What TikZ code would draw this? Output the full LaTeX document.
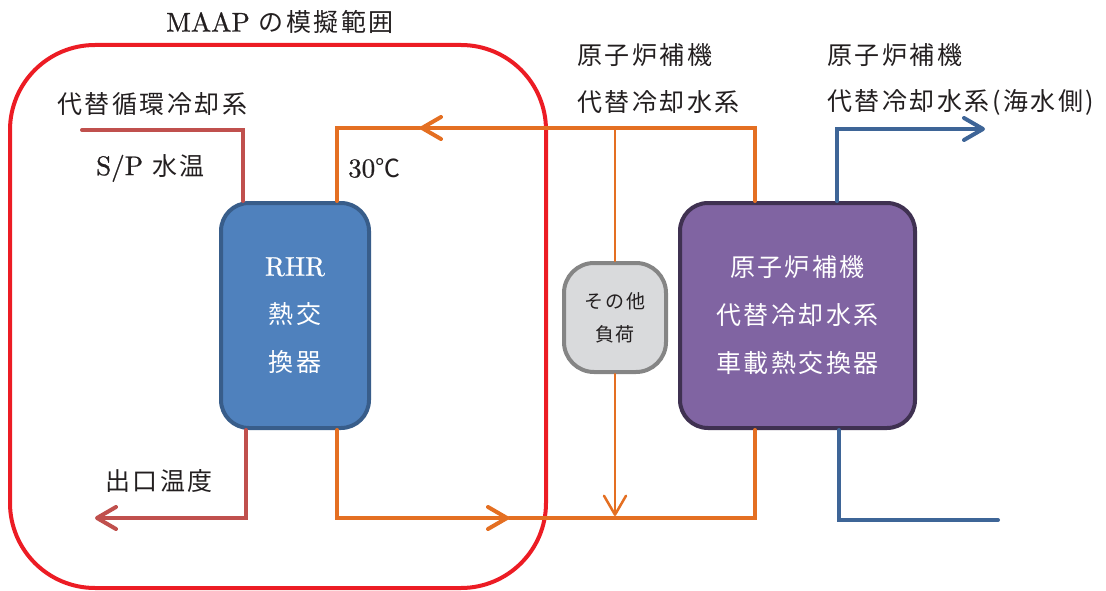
\documentclass[tikz,border=0pt]{standalone}
\usepackage{fontspec}
\setmainfont{lmroman10-regular.otf}[RawFeature={embolden=0.8}]
\newfontfamily\cjk[LetterSpace=10]{Noto Sans CJK JP}
\usetikzlibrary{arrows.meta}
\definecolor{framered}{HTML}{EC1C24}
\definecolor{brn}{HTML}{C0504D}
\definecolor{org}{HTML}{E46F22}
\definecolor{blu}{HTML}{3E6597}
\definecolor{rhrfill}{HTML}{4F81BD}
\definecolor{rhrdraw}{HTML}{385D8A}
\definecolor{purfill}{HTML}{8064A2}
\definecolor{purdraw}{HTML}{3F3151}
\definecolor{gryfill}{HTML}{D9DADC}
\definecolor{grydraw}{HTML}{858585}
\definecolor{txt}{HTML}{231F20}
\newcommand\J[1]{{\cjk\fontsize{25}{48}\selectfont #1}}
\newcommand\Js[1]{{\cjk\fontsize{19}{33}\selectfont #1}}
\tikzset{
  lbl/.style={inner sep=0pt, text=txt, font=\fontsize{27}{32}\selectfont},
  hxbox/.style={rounded corners=28pt, line width=4pt, inner sep=0pt, align=center,
    text=white, font=\fontsize{27}{48}\selectfont},
  tip/.style={-{Straight Barb[length=19pt,width=22pt,round]}},
  brline/.style={draw=brn, line width=4pt, line cap=round},
  oline/.style={draw=org, line width=4pt, line cap=round},
  othin/.style={draw=org, line width=2.5pt, line cap=round},
  bline/.style={draw=blu, line width=4pt, line cap=round},
}
\begin{document}
\begin{tikzpicture}[x=1pt,y=-1pt]
\useasboundingbox (0,0) rectangle (1106,591);

% MAAP frame
\node[draw=framered, line width=4pt, rounded corners=85pt, minimum width=536pt,
  minimum height=543pt, inner sep=0pt] (maap) at (278,316.5) {};
\node[lbl] (title) at (280,22) {MAAP \J{の模擬範囲}};

% boxes
\node[hxbox, fill=rhrfill, draw=rhrdraw, minimum width=148pt, minimum height=225pt]
  (rhr) at (295,315.5) {RHR\\\J{熱交}\\\J{換器}};
\node[hxbox, fill=purfill, draw=purdraw, minimum width=235pt, minimum height=225pt]
  (pur) at (797.5,315.5) {\J{原子炉補機}\\\J{代替冷却水系}\\\J{車載熱交換器}};
\node[hxbox, fill=gryfill, draw=grydraw, rounded corners=30pt, text=txt,
  font=\fontsize{19}{33}\selectfont, minimum width=102pt, minimum height=109pt]
  (oth) at (615,317.5) {\Js{その他}\\\Js{負荷}};

% labels
\node[lbl, anchor=west] (l1) at (57,104) {\J{代替循環冷却系}};
\node[lbl, anchor=west] (l2) at (96,168) {S/P \J{水温}};
\node[lbl, anchor=west] (l3) at (348,168) {30\J{℃}};
\node[lbl, anchor=west] (l4) at (105,481) {\J{出口温度}};
\node[lbl, anchor=west] (l5) at (577,55) {\J{原子炉補機}};
\node[lbl, anchor=west] (l6) at (577,102) {\J{代替冷却水系}};
\node[lbl, anchor=west] (l7) at (827,55) {\J{原子炉補機}};
\node[lbl, anchor=west] (l8) at (827,102) {\J{代替冷却水系(海水側)}};

% coordinates
\coordinate (spin) at (82,130);
\coordinate (a1) at (243,130);
\coordinate (r1) at (246,518);
\coordinate (rout) at (95,518);
\coordinate (o1) at (337,128);
\coordinate (o2) at (755,128);
\coordinate (o3) at (615,128);
\coordinate (oa) at (420,128);
\coordinate (b1) at (337,518);
\coordinate (b2) at (755,518);
\coordinate (ba) at (509,518);
\coordinate (ob3) at (615,516);
\coordinate (u1) at (837,129);
\coordinate (uout) at (985,129);
\coordinate (d1) at (839,520);
\coordinate (dout) at (998,520);

% alternative circulation cooling (S/P side)
\draw[brline] (spin) -- (a1) -- (a1 |- rhr.north);
\draw[brline, tip] (rhr.south -| r1) -- (r1) -- (rout);

% cooling water loop
\draw[oline, tip] (o2 |- pur.north) -- (o2) -- (oa);
\draw[oline] (oa) -- (o1) -- (o1 |- rhr.north);
\draw[oline, tip] (rhr.south -| b1) -- (b1) -- (ba);
\draw[oline] (ba) -- (b2) -- (b2 |- pur.south);
\draw[othin] (o3) -- (oth.north);
\draw[othin, tip] (oth.south) -- (ob3);

% sea water side
\draw[bline, tip] (pur.north -| u1) -- (u1) -- (uout);
\draw[bline] (pur.south -| d1) -- (d1) -- (dout);
\end{tikzpicture}
\end{document}
